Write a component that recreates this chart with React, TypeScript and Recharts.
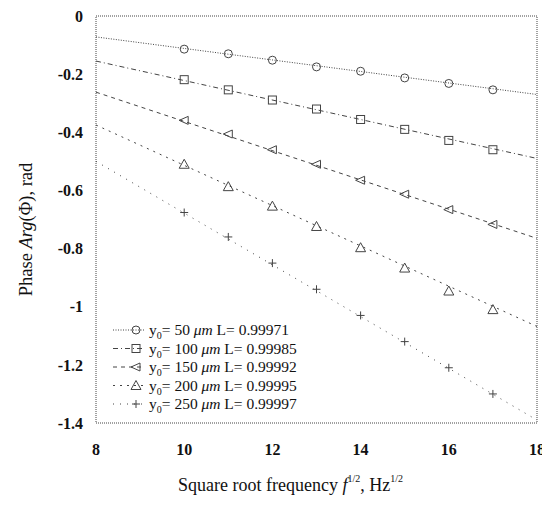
import React from "react";
import { ComposedChart, Line, Scatter, XAxis, YAxis, ReferenceArea } from "recharts";

const freqs = [10, 11, 12, 13, 14, 15, 16, 17];
const phase50 = [-0.114, -0.13, -0.152, -0.175, -0.19, -0.213, -0.232, -0.254];
const phase100 = [-0.219, -0.254, -0.289, -0.32, -0.356, -0.39, -0.428, -0.46];
const phase150 = [-0.359, -0.406, -0.46, -0.51, -0.565, -0.613, -0.666, -0.717];
const phase200 = [-0.51, -0.587, -0.654, -0.724, -0.797, -0.867, -0.946, -1.01];
const phase250 = [-0.676, -0.76, -0.85, -0.94, -1.03, -1.12, -1.21, -1.3];

// fitted lines, read at both ends of the axis
const fitX = [8, 18];
const fit50 = [-0.072, -0.27];
const fit100 = [-0.155, -0.49];
const fit150 = [-0.262, -0.765];
const fit200 = [-0.375, -1.068];
const fit250 = [-0.5, -1.39];

const depths = ["50", "100", "150", "200", "250"];
const corr = ["0.99971", "0.99985", "0.99992", "0.99995", "0.99997"];
const xTicks = [8, 10, 12, 14, 16, 18];
const yTicks = [0, -0.2, -0.4, -0.6, -0.8, -1, -1.2, -1.4];

const INK = "#444";
const FONT = "Liberation Serif, DejaVu Serif, serif";

const toPts = (xs: number[], ys: number[]) => xs.map((x, i) => ({ x, y: ys[i] }));

const marker = (kind: string, cx: number, cy: number) => {
  const s = { fill: "none", stroke: INK, strokeWidth: 1 };
  if (kind === "circle") return <circle cx={cx} cy={cy} r={4} {...s} />;
  if (kind === "square") return <rect x={cx - 4} y={cy - 4} width={8} height={8} {...s} />;
  if (kind === "left")
    return <polygon points={`${cx - 5},${cy} ${cx + 4},${cy - 4} ${cx + 4},${cy + 4}`} {...s} />;
  if (kind === "up")
    return <polygon points={`${cx},${cy - 5} ${cx - 5},${cy + 4} ${cx + 5},${cy + 4}`} {...s} />;
  return (
    <g {...s}>
      <line x1={cx - 4} y1={cy} x2={cx + 4} y2={cy} />
      <line x1={cx} y1={cy - 4} x2={cx} y2={cy + 4} />
    </g>
  );
};

const series = [
  { pts: phase50, fit: fit50, kind: "circle", dash: "1 1.5" },
  { pts: phase100, fit: fit100, kind: "square", dash: "5 3 1 3" },
  { pts: phase150, fit: fit150, kind: "left", dash: "4 4" },
  { pts: phase200, fit: fit200, kind: "up", dash: "2 5" },
  { pts: phase250, fit: fit250, kind: "cross", dash: "1 6" },
];

const LegendBox = () => (
  <svg width={210} height={95} style={{ display: "block" }}>
    {series.map((s, i) => {
      const y = 8 + i * 18.5;
      return (
        <g key={i}>
          <line x1={2} y1={y} x2={34} y2={y} stroke={INK} strokeDasharray={s.dash} />
          {marker(s.kind, 25, y)}
          <text x={38} y={y + 5} fontSize={15.5} fill="#111" fontFamily={FONT}>
            y<tspan fontSize={10} dy={4}>0</tspan>
            <tspan dy={-4}>= {depths[i]} </tspan>
            <tspan fontStyle="italic">μm</tspan> L= {corr[i]}
          </text>
        </g>
      );
    })}
  </svg>
);

const XLabel = ({ viewBox }: any) => {
  const cx = viewBox.x + viewBox.width / 2 - 26;
  return (
    <text x={cx} y={viewBox.y + 68} textAnchor="middle" fontSize={18} fill="#111" fontFamily={FONT}>
      Square root frequency <tspan fontStyle="italic">f</tspan>
      <tspan fontSize={10} dy={-9}>1/2</tspan>
      <tspan dy={9}>, Hz</tspan>
      <tspan fontSize={10} dy={-9}>1/2</tspan>
    </text>
  );
};

const YLabel = ({ viewBox }: any) => {
  const cx = 20;
  const cy = viewBox.y + viewBox.height / 2 + 10;
  return (
    <text x={cx} y={cy} transform={`rotate(-90 ${cx} ${cy})`} textAnchor="middle" fontSize={18.5} fill="#111" fontFamily={FONT} dominantBaseline="middle">
      Phase  <tspan fontStyle="italic">Arg</tspan>(Φ), rad
    </text>
  );
};

const tickStyle = { fontSize: 16, fontWeight: 700, fill: "#111", fontFamily: FONT };

export default function App() {
  return (
    <div style={{ position: "relative", width: 542, height: 515 }}>
      <ComposedChart
        width={542}
        height={515}
        margin={{ top: 8, right: 13, bottom: 70, left: 0 }}
      >
        <XAxis
          type="number"
          dataKey="x"
          domain={[8, 18]}
          ticks={xTicks}
          interval={0}
          tickLine={false}
          axisLine={false}
          tickSize={0}
          tickMargin={21}
          tick={tickStyle}
          label={<XLabel />}
        />
        <YAxis
          type="number"
          dataKey="y"
          domain={[-1.4, 0]}
          ticks={yTicks}
          interval={0}
          width={88}
          tickLine={false}
          axisLine={false}
          tickSize={0}
          tickMargin={13}
          tick={tickStyle}
          label={<YLabel />}
        />
        <ReferenceArea x1={8} x2={18} y1={-1.4} y2={0} fill="none" stroke={INK} strokeDasharray="1 1" />
        {series.map((s, i) => (
          <Line
            key={"fit" + i}
            data={toPts(fitX, s.fit)}
            dataKey="y"
            type="linear"
            stroke={INK}
            strokeWidth={1}
            strokeDasharray={s.dash}
            dot={false}
            activeDot={false}
            isAnimationActive={false}
            legendType="none"
          />
        ))}
        {series.map((s, i) => (
          <Scatter
            key={"pts" + i}
            data={toPts(freqs, s.pts)}
            dataKey="y"
            shape={(p: any) => marker(s.kind, p.cx, p.cy)}
            isAnimationActive={false}
          />
        ))}
      </ComposedChart>
      <div style={{ position: "absolute", left: 103, top: 314 }}>
        <LegendBox />
      </div>
    </div>
  );
}
